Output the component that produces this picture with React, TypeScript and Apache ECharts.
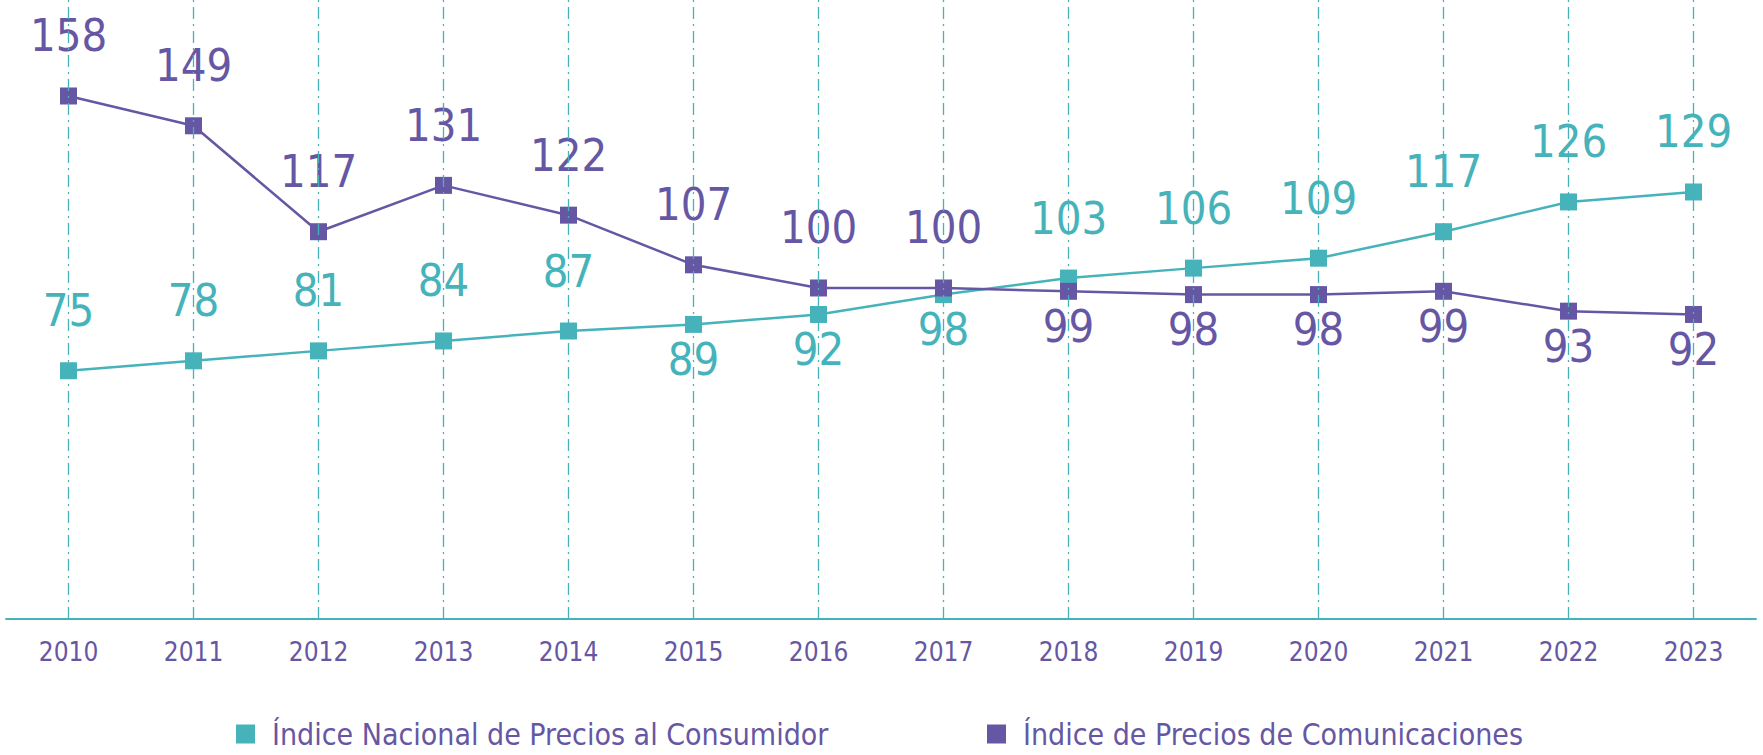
import React, { useEffect, useRef } from "react";
import * as echarts from "echarts";

const years = ["2010", "2011", "2012", "2013", "2014", "2015", "2016", "2017", "2018", "2019", "2020", "2021", "2022", "2023"];
const inpcName = "Índice Nacional de Precios al Consumidor";
const comName = "Índice de Precios de Comunicaciones";
const inpcValues = [75, 78, 81, 84, 87, 89, 92, 98, 103, 106, 109, 117, 126, 129];
const comValues = [158, 149, 117, 131, 122, 107, 100, 100, 99, 98, 98, 99, 93, 92];
const inpcLabelPos = ["top", "top", "top", "top", "top", "bottom", "bottom", "bottom", "top", "top", "top", "top", "top", "top"];
const comLabelPos = ["top", "top", "top", "top", "top", "top", "top", "top", "bottom", "bottom", "bottom", "bottom", "bottom", "bottom"];

const TEAL = "#46B3BB";
const PURPLE = "#6657A4";
const FONT = '"Liberation Sans Narrow", "DejaVu Sans Condensed", "Roboto", sans-serif';

export default function App() {
  const ref = useRef<HTMLDivElement>(null);
  useEffect(() => {
    if (!ref.current) return;
    const chart = echarts.init(ref.current, null, { renderer: "svg" });
    const mkData = (vals: number[], pos: string[]) =>
      vals.map((v, i) => ({
        value: v,
        label: {
          position: pos[i],
          distance: pos[i] === "top" ? 29 : 4,
        },
      }));
    chart.setOption({
      animation: false,
      grid: { left: 6, right: 7, top: 0, bottom: 136 },
      xAxis: {
        type: "category",
        data: years,
        boundaryGap: true,
        axisLine: { lineStyle: { color: TEAL, width: 2 } },
        axisTick: { show: false },
        axisLabel: { color: PURPLE, fontSize: 26, fontFamily: FONT, margin: 20 },
        splitLine: { show: false },
      },
      yAxis: { type: "value", min: 0, max: 187, show: false, splitLine: { show: false } },
      legend: [
        {
          data: [inpcName],
          left: 231,
          top: 714,
          icon: "rect",
          itemWidth: 19,
          itemHeight: 19,
          textStyle: { color: PURPLE, fontSize: 30, fontFamily: FONT, padding: [0, 0, 0, 12] },
        },
        {
          data: [comName],
          left: 982,
          top: 714,
          icon: "rect",
          itemWidth: 19,
          itemHeight: 19,
          textStyle: { color: PURPLE, fontSize: 30, fontFamily: FONT, padding: [0, 0, 0, 12] },
        },
      ],
      series: [
        {
          name: "guides",
          type: "line",
          data: [],
          z: 1,
          silent: true,
          markLine: {
            silent: true,
            symbol: "none",
            label: { show: false },
            lineStyle: { color: TEAL, width: 1.3, type: [12, 5, 2, 5] },
            data: years.map((y) => ({ xAxis: y })),
          },
        },
        {
          name: inpcName,
          type: "line",
          z: 3,
          data: mkData(inpcValues, inpcLabelPos),
          symbol: "rect",
          symbolSize: 17,
          itemStyle: { color: TEAL },
          lineStyle: { color: TEAL, width: 2.5 },
          label: { show: true, color: TEAL, fontSize: 45, fontFamily: FONT },
        },
        {
          name: comName,
          type: "line",
          z: 3,
          data: mkData(comValues, comLabelPos),
          symbol: "rect",
          symbolSize: 17,
          itemStyle: { color: PURPLE },
          lineStyle: { color: PURPLE, width: 2.5 },
          label: { show: true, color: PURPLE, fontSize: 45, fontFamily: FONT },
        },
      ],
    });
    return () => chart.dispose();
  }, []);
  return <div ref={ref} style={{ width: 1763, height: 755, position: "absolute", left: 0, top: 0 }} />;
}
